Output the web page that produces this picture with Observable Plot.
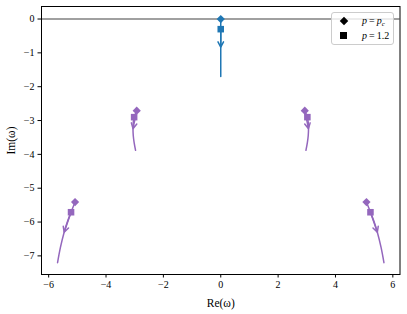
<!DOCTYPE html>
<html>
<head>
<meta charset="utf-8">
<script src="https://cdn.jsdelivr.net/npm/d3@7"></script>
<script src="https://cdn.jsdelivr.net/npm/@observablehq/plot@0.6"></script>
<style>
  html, body { margin: 0; padding: 0; background: white; }
  #wrap { position: relative; width: 407px; height: 314px; font-family: "Liberation Serif", serif; }
  #legend { position: absolute; left: 331px; top: 12px; width: 63px; height: 33px; box-sizing: border-box;
    border: 1px solid #cccccc; border-radius: 3px; background: rgba(255,255,255,0.8); }
  .entry { position: absolute; left: 0; height: 12px; width: 100%; font-size: 10px; line-height: 12px; }
  .sym { position: absolute; background: black; }
  .txt { position: absolute; left: 30px; top: 0; white-space: nowrap; }
  .txt sub { font-size: 7px; vertical-align: -2px; line-height: 0; font-style: italic; }
</style>
</head>
<body>
<div id="wrap"></div>
<script>
// ---- data ----
const branchNames = ["center", "innerLeft", "innerRight", "outerLeft", "outerRight"];
const branchColors = ["#1f77b4", "#9467bd", "#9467bd", "#9467bd", "#9467bd"];

// trajectories of the roots (Re, Im), from p = p_c downward
const centerRe = [0, 0, 0, 0];
const centerIm = [0, -0.3, -0.83, -1.7];
const innerLeftRe = [-2.93, -3.02, -3.05, -3.06, -3.05, -3.02, -2.97];
const innerLeftIm = [-2.71, -2.90, -3.05, -3.24, -3.45, -3.65, -3.88];
const innerRightRe = [2.93, 3.02, 3.05, 3.06, 3.05, 3.02, 2.97];
const innerRightIm = [-2.71, -2.90, -3.05, -3.24, -3.45, -3.65, -3.88];
const outerLeftRe = [-5.08, -5.22, -5.35, -5.46, -5.59, -5.69];
const outerLeftIm = [-5.41, -5.71, -6.00, -6.30, -6.75, -7.20];
const outerRightRe = [5.08, 5.22, 5.35, 5.46, 5.59, 5.69];
const outerRightIm = [-5.41, -5.71, -6.00, -6.30, -6.75, -7.20];

// markers: p = p_c (diamond) and p = 1.2 (square)
const pcRe = [0, -2.93, 2.93, -5.08, 5.08];
const pcIm = [0, -2.71, -2.71, -5.41, -5.41];
const p12Re = [0, -3.02, 3.02, -5.22, 5.22];
const p12Im = [-0.30, -2.90, -2.90, -5.71, -5.71];

// direction arrows (start -> tip)
const arrowFromRe = [0, -2.93, 2.93, -5.22, 5.22];
const arrowFromIm = [-0.30, -2.71, -2.71, -5.71, -5.71];
const arrowToRe = [0, -3.06, 3.06, -5.46, 5.46];
const arrowToIm = [-0.83, -3.24, -3.24, -6.30, -6.30];

const xTicks = [-6, -4, -2, 0, 2, 4, 6];
const yTicks = [0, -1, -2, -3, -4, -5, -6, -7];
const legendSymbols = ["diamond", "square"];
const legendLabels = ['<i>p</i>\u2009=\u2009<i>p</i><sub>c</sub>', '<i>p</i>\u2009=\u20091.2'];

// ---- build tables ----
const trajRe = [centerRe, innerLeftRe, innerRightRe, outerLeftRe, outerRightRe];
const trajIm = [centerIm, innerLeftIm, innerRightIm, outerLeftIm, outerRightIm];
const curves = [];
branchNames.forEach((b, i) => trajRe[i].forEach((re, j) =>
  curves.push({branch: b, color: branchColors[i], re, im: trajIm[i][j]})));
const pcPts = branchNames.map((b, i) => ({re: pcRe[i], im: pcIm[i], color: branchColors[i]}));
const p12Pts = branchNames.map((b, i) => ({re: p12Re[i], im: p12Im[i], color: branchColors[i]}));
const arrows = branchNames.map((b, i) => ({x1: arrowFromRe[i], y1: arrowFromIm[i], x2: arrowToRe[i], y2: arrowToIm[i], color: branchColors[i]}));

const fmt = d3.format("d");

const chart = Plot.plot({
  width: 407,
  height: 314,
  marginLeft: 41,
  marginRight: 7.5,
  marginTop: 6,
  marginBottom: 40,
  style: {fontFamily: "Liberation Serif, serif", fontSize: "10px", background: "white", color: "black"},
  color: {type: "identity"},
  x: {domain: [-6.25, 6.25]},
  y: {domain: [-7.55, 0.37]},
  marks: [
    Plot.ruleY([0], {stroke: "#808080", strokeWidth: 1.5}),
    Plot.line(curves, {x: "re", y: "im", z: "branch", stroke: "color", strokeWidth: 1.5, curve: "catmull-rom"}),
    Plot.arrow(arrows, {x1: "x1", y1: "y1", x2: "x2", y2: "y2", stroke: "color", strokeWidth: 1.5, headLength: 6, headAngle: 55}),
    Plot.dot(pcPts, {x: "re", y: "im", fill: "color", symbol: "diamond2", r: 3.7}),
    Plot.dot(p12Pts, {x: "re", y: "im", fill: "color", symbol: "square", r: 3.7}),
    Plot.frame({stroke: "black", strokeWidth: 1}),
    Plot.axisX({ticks: xTicks, tickFormat: fmt, tickSize: 3.5, tickPadding: 3, label: "Re(ω)", labelAnchor: "center", labelOffset: 32, labelArrow: "none"}),
    Plot.axisY({ticks: yTicks, tickFormat: fmt, tickSize: 3.5, tickPadding: 3.5, label: "Im(ω)", labelAnchor: "center", labelOffset: 35, labelArrow: "none"})
  ]
});

d3.select(chart).selectAll('[aria-label="x-axis label"], [aria-label="y-axis label"]').attr("font-size", "11.5px");

const wrap = document.getElementById("wrap");
wrap.appendChild(chart);

const legend = document.createElement("div");
legend.id = "legend";
legendSymbols.forEach((s, i) => {
  const e = document.createElement("div");
  e.className = "entry";
  e.style.top = (2 + i * 14.5) + "px";
  const sym = document.createElement("div");
  sym.className = "sym";
  if (s === "diamond") {
    sym.style.cssText = "left:8.5px;top:3px;width:6px;height:6px;transform:rotate(45deg);";
  } else {
    sym.style.cssText = "left:8.2px;top:2.7px;width:6.5px;height:6.5px;";
  }
  const t = document.createElement("div");
  t.className = "txt";
  t.innerHTML = legendLabels[i];
  e.appendChild(sym);
  e.appendChild(t);
  legend.appendChild(e);
});
wrap.appendChild(legend);
</script>
</body>
</html>
